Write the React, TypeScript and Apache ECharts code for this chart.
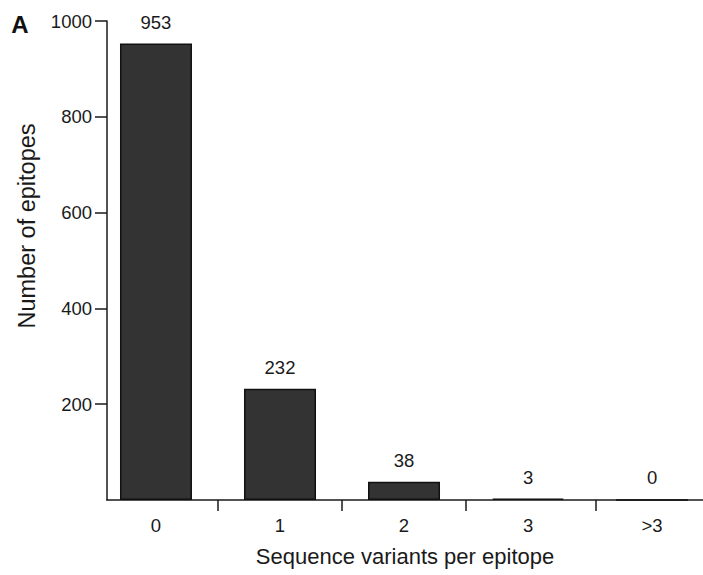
import React, { useEffect, useRef } from "react";
import * as echarts from "echarts";

const categories = ["0", "1", "2", "3", ">3"];
const counts = [953, 232, 38, 3, 0];
const yTicks = [200, 400, 600, 800, 1000];
const xTitle = "Sequence variants per epitope";
const yTitle = "Number of epitopes";
const panelLabel = "A";

const FONT = "'Liberation Sans', Arial, Helvetica, sans-serif";

export default function App() {
  const ref = useRef<HTMLDivElement>(null);
  useEffect(() => {
    if (!ref.current) return;
    const chart = echarts.init(ref.current, undefined, { renderer: "svg" });
    chart.setOption({
      animation: false,
      backgroundColor: "#ffffff",
      textStyle: { fontFamily: FONT },
      grid: { left: 107, right: 0, top: 21, bottom: 75, containLabel: false },
      xAxis: {
        type: "value",
        min: -0.395,
        max: 4.411,
        name: xTitle,
        nameLocation: "middle",
        nameGap: 45,
        nameTextStyle: { fontSize: 22, color: "#1a1a1a", fontFamily: FONT },
        axisLine: { show: true, onZero: false, lineStyle: { color: "#1a1a1a", width: 1.5 } },
        axisTick: {
          show: true,
          length: 11,
          inside: false,
          customValues: [0.5, 1.5, 2.5, 3.55],
          lineStyle: { color: "#1a1a1a", width: 1.5 },
        },
        axisLabel: {
          customValues: [0, 1, 2, 3, 4],
          formatter: (v: number) => categories[Math.round(v)] ?? "",
          fontSize: 18.5,
          color: "#1a1a1a",
          margin: 16,
          fontFamily: FONT,
        },
        splitLine: { show: false },
      },
      yAxis: {
        type: "value",
        min: 0,
        max: 1000,
        axisLine: { show: true, onZero: false, lineStyle: { color: "#1a1a1a", width: 1.5 } },
        axisTick: {
          show: true,
          length: 12,
          customValues: yTicks,
          lineStyle: { color: "#1a1a1a", width: 1.5 },
        },
        axisLabel: {
          customValues: yTicks,
          formatter: (v: number) => String(v),
          fontSize: 18.5,
          color: "#1a1a1a",
          margin: 15,
          fontFamily: FONT,
        },
        splitLine: { show: false },
      },
      series: [
        {
          type: "bar",
          data: counts.map((v, i) => [i, v]),
          barWidth: 72,
          itemStyle: { color: "#333333", borderColor: "#111111", borderWidth: 1.5 },
          label: {
            show: true,
            position: "top",
            distance: 12,
            fontSize: 18.5,
            color: "#1a1a1a",
            fontFamily: FONT,
            formatter: (p: any) => String(p.value[1]),
          },
        },
      ],
      graphic: [
        {
          type: "text",
          x: 27,
          y: 226,
          rotation: Math.PI / 2,
          style: {
            text: yTitle,
            fontSize: 23.5,
            fill: "#1a1a1a",
            fontFamily: FONT,
            align: "center",
            verticalAlign: "middle",
          },
        },
        {
          type: "text",
          x: 20,
          y: 24,
          style: {
            text: panelLabel,
            fontSize: 24,
            fontWeight: "bold",
            fill: "#111111",
            fontFamily: FONT,
            align: "center",
            verticalAlign: "middle",
          },
        },
      ],
    });
    return () => chart.dispose();
  }, []);
  return (
    <div
      ref={ref}
      style={{ width: 703, height: 575, position: "fixed", left: 0, top: 0 }}
    />
  );
}
